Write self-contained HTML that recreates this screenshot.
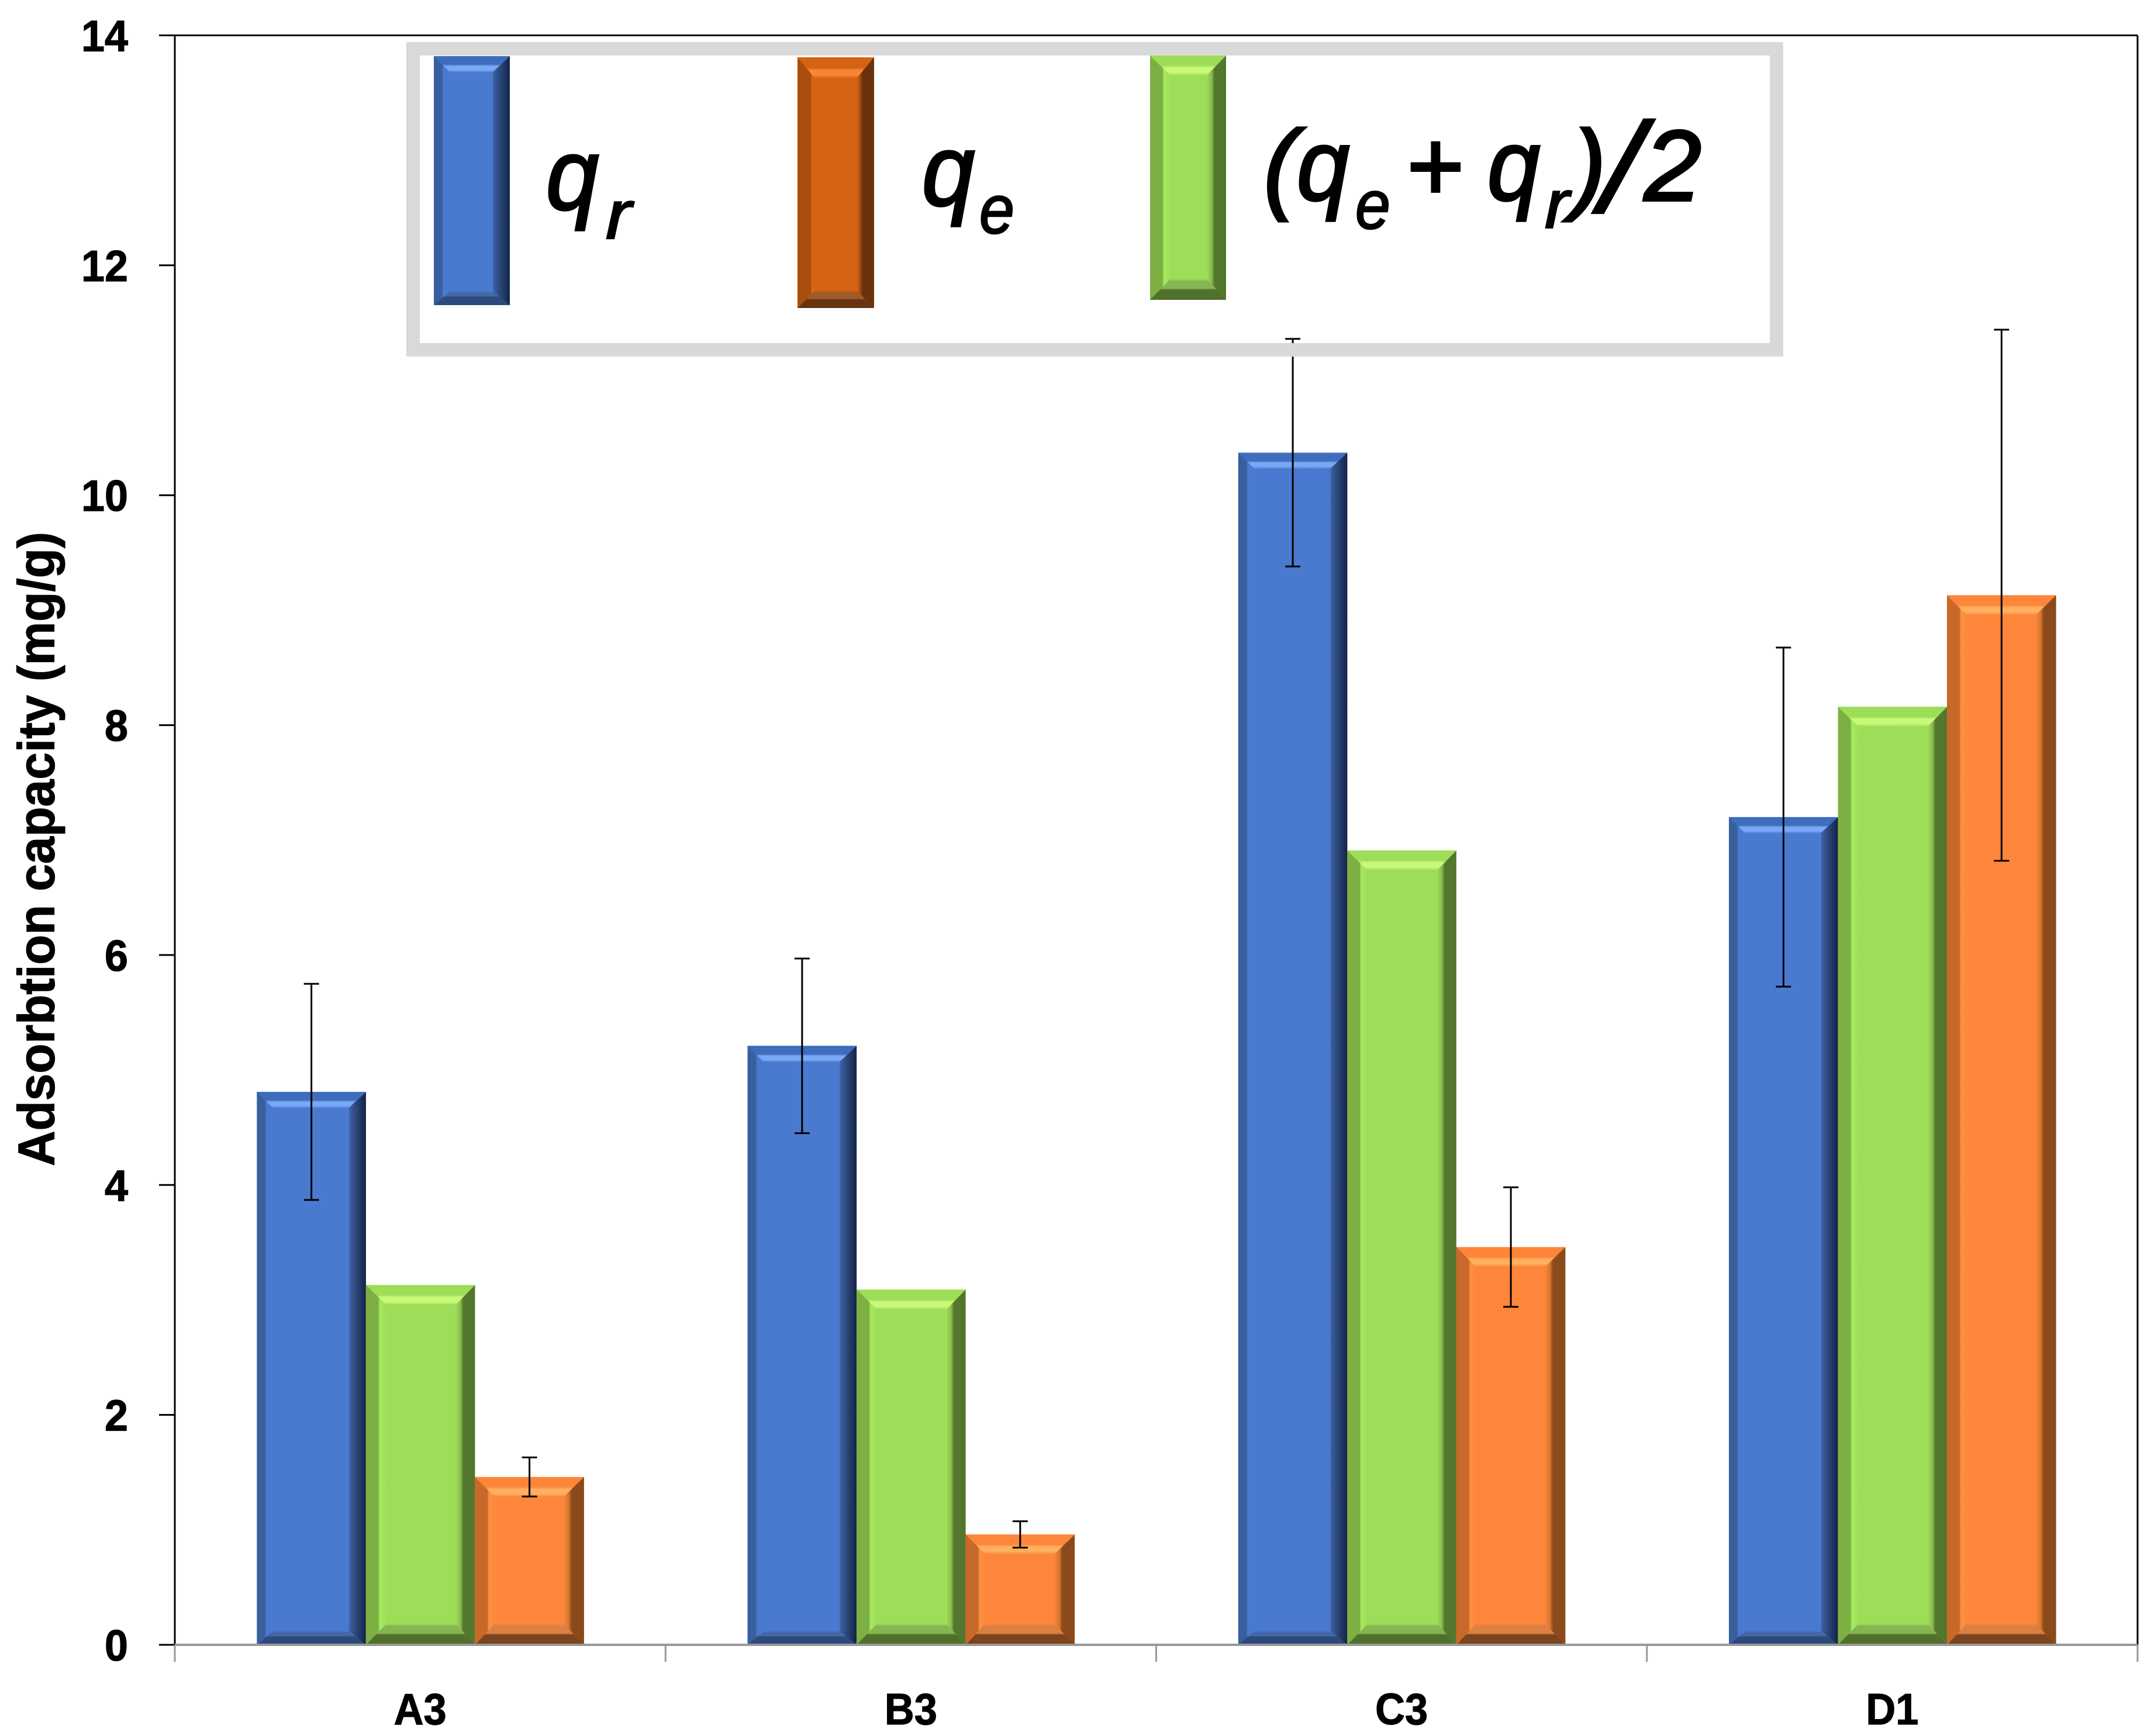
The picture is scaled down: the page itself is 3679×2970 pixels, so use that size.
<!DOCTYPE html>
<html lang="en">
<head>
<meta charset="utf-8">
<title>Adsorption capacity chart</title>
<style>
html,body{margin:0;padding:0;background:#fff;width:3679px;height:2970px;overflow:hidden}
svg{display:block}
text{font-family:"Liberation Sans",sans-serif;fill:#000}
.tick{font-weight:700;font-size:75px;stroke:#000;stroke-width:1.2px}
.math{font-style:italic;font-size:172px;stroke:#000;stroke-width:4px}
.sub{font-style:italic;font-size:118px;stroke:#000;stroke-width:2.5px}
</style>
</head>
<body>
<svg id="chart" xmlns="http://www.w3.org/2000/svg" width="3679" height="2970" viewBox="0 0 3679 2970">
  <rect x="0" y="0" width="3679" height="2970" fill="#ffffff"/>
  <defs id="defs"></defs>
  <g id="bars"></g>
  <g id="axes"></g>
  <g id="errors"></g>
  <text transform="translate(92.5 1995) rotate(-90)" font-weight="700" font-size="88" stroke="#000" stroke-width="1.2" textLength="1085" lengthAdjust="spacingAndGlyphs">Adsorbtion capacity (mg/g)</text>
  <g>
    <rect x="706.5" y="83.5" width="2332" height="515" fill="none" stroke="#d9d9d9" stroke-width="23"/>
    <g id="legend-swatches"></g>
    <g>
      <text class="math" x="934" y="358" textLength="90" lengthAdjust="spacingAndGlyphs">q</text>
      <text class="sub" x="1036" y="408" textLength="44" lengthAdjust="spacingAndGlyphs">r</text>
    </g>
    <g>
      <text class="math" x="1577" y="351" textLength="90" lengthAdjust="spacingAndGlyphs">q</text>
      <text class="sub" x="1675" y="399" textLength="60" lengthAdjust="spacingAndGlyphs">e</text>
    </g>
    <g>
      <text class="math" x="2161" y="343" textLength="57" lengthAdjust="spacingAndGlyphs">(</text>
      <text class="math" x="2218" y="342" textLength="90" lengthAdjust="spacingAndGlyphs">q</text>
      <text class="sub" x="2318" y="391" textLength="60" lengthAdjust="spacingAndGlyphs">e</text>
      <text class="math" x="2404" y="343" textLength="98" lengthAdjust="spacingAndGlyphs">+</text>
      <text class="math" x="2544" y="342" textLength="90" lengthAdjust="spacingAndGlyphs">q</text>
      <text class="sub" x="2642" y="390" textLength="42" lengthAdjust="spacingAndGlyphs">r</text>
      <text class="math" x="2690" y="343" textLength="57" lengthAdjust="spacingAndGlyphs">)</text>
      <text class="math" x="2737" y="363" style="font-size:220px;stroke-width:2px" textLength="72" lengthAdjust="spacingAndGlyphs">/</text>
      <text class="math" x="2812" y="343" textLength="98" lengthAdjust="spacingAndGlyphs">2</text>
    </g>
  </g>
</svg>
<script>
const categories = ["A3", "B3", "C3", "D1"];
const qrValues = [4.81, 5.21, 10.37, 7.20];
const averageValues = [3.13, 3.09, 6.91, 8.16];
const qeValues = [1.46, 0.96, 3.46, 9.13];
const qrErrors = [0.94, 0.76, 0.99, 1.475];
const qeErrors = [0.17, 0.115, 0.52, 2.31];
const yTickLabels = [0, 2, 4, 6, 8, 10, 12, 14];

const SVG_NS = "http://www.w3.org/2000/svg";
const plotLeft = 299, plotRight = 3656, plotBottom = 2814, plotTop = 60.5;
const yMax = 14;
function yScale(v) { return plotBottom - (v / yMax) * (plotBottom - plotTop); }
const catWidth = (plotRight - plotLeft) / categories.length;
const barWidth = catWidth / 4.5;
function barX(catIndex, seriesIndex) { return plotLeft + 0.5 + catIndex * catWidth + barWidth * 0.75 + seriesIndex * barWidth; }

const styles = {
  blue:   {main:"#4a7ad0", leftA:"#38609f", leftB:"#4a7ad0", ls:0.5, rightA:"#3a5d9c", rightB:"#16264a", rs:0.1, re:0.95, topA:"#3f6dbd", hi:"#7aa8f6", botA:"#4468a8", botB:"#2d4a7c", botS:0.4, l:28, r:30, t:28, b:24},
  green:  {main:"#9edd58", leftA:"#7db043", leftB:"#a6ea60", ls:0.6, rightA:"#88bd4c", rightB:"#53772d", rs:0.25, re:0.4, topA:"#9edd58", hi:"#c8fa78", botA:"#86b652", botB:"#50702c", botS:0.5, l:35, r:33, t:34, b:36},
  orange: {main:"#fd863a", leftA:"#c7692a", leftB:"#ff9040", ls:0.62, rightA:"#d8762f", rightB:"#8a4a1c", rs:0.25, re:0.4, topA:"#fd863a", hi:"#ffb060", botA:"#d98043", botB:"#7c431f", botS:0.5, l:34, r:35, t:34, b:36},
  legendOrange: {main:"#d46414", leftA:"#aa4e0e", leftB:"#d9691a", ls:0.75, rightA:"#a84c0e", rightB:"#69320a", rs:0.2, re:0.35, topA:"#d46414", hi:"#fb8436", botA:"#a05a28", botB:"#683410", botS:0.5, l:30, r:30, t:36, b:30}
};

function make(tag, attrs, parent) {
  const e = document.createElementNS(SVG_NS, tag);
  for (const k in attrs) e.setAttribute(k, attrs[k]);
  if (parent) parent.appendChild(e);
  return e;
}
function gradient(id, vertical, stops) {
  const g = make("linearGradient", {id: id, x1: 0, y1: 0, x2: vertical ? 0 : 1, y2: vertical ? 1 : 0}, document.getElementById("defs"));
  stops.forEach(function (s) { make("stop", {offset: s[0], "stop-color": s[1]}, g); });
}
Object.keys(styles).forEach(function (n) {
  const p = styles[n];
  gradient(n + "-left", false, [[0, p.leftA], [p.ls, p.leftA], [Math.min(p.ls + 0.08, 1), p.leftB], [1, p.main]]);
  gradient(n + "-right", false, [[0, p.main], [p.rs, p.rightA], [p.re, p.rightB], [1, p.rightB]]);
  gradient(n + "-top", true, [[0, p.topA], [0.5, p.topA], [0.62, p.hi], [0.85, p.hi], [1, p.main]]);
  gradient(n + "-bottom", true, [[0, p.main], [0.12, p.botA], [p.botS - 0.05, p.botA], [p.botS + 0.03, p.botB], [1, p.botB]]);
});
function pts(list) { return list.map(function (q) { return q[0] + "," + q[1]; }).join(" "); }
function bevelBar(parent, styleName, x, y, w, h) {
  const p = styles[styleName];
  const x2 = x + w, y2 = y + h;
  make("rect", {x: x, y: y, width: w, height: h, fill: p.main}, parent);
  make("polygon", {points: pts([[x, y], [x + p.l, y + p.t], [x + p.l, y2 - p.b], [x, y2]]), fill: "url(#" + styleName + "-left)"}, parent);
  make("polygon", {points: pts([[x2, y], [x2 - p.r, y + p.t], [x2 - p.r, y2 - p.b], [x2, y2]]), fill: "url(#" + styleName + "-right)"}, parent);
  make("polygon", {points: pts([[x, y], [x2, y], [x2 - p.r, y + p.t], [x + p.l, y + p.t]]), fill: "url(#" + styleName + "-top)"}, parent);
  make("polygon", {points: pts([[x + p.l, y2 - p.b], [x2 - p.r, y2 - p.b], [x2, y2], [x, y2]]), fill: "url(#" + styleName + "-bottom)"}, parent);
}

const barsLayer = document.getElementById("bars");
const axesLayer = document.getElementById("axes");
const errorsLayer = document.getElementById("errors");
const seriesList = [
  {name: "qr", values: qrValues, style: "blue", slot: 0},
  {name: "average", values: averageValues, style: "green", slot: 1},
  {name: "qe", values: qeValues, style: "orange", slot: 2}
];
seriesList.forEach(function (s) {
  s.values.forEach(function (v, i) {
    const g = make("g", {}, barsLayer);
    
    
    bevelBar(g, s.style, barX(i, s.slot), yScale(v), barWidth, plotBottom - yScale(v));
  });
});

function errorBar(catIndex, slot, value, err, name) {
  const cx = barX(catIndex, slot) + barWidth / 2;
  const hi = yScale(value + err), lo = yScale(value - err);
  const g = make("g", {stroke: "#000", "stroke-width": 3, fill: "none"}, errorsLayer);
  
  
  make("line", {x1: cx, x2: cx, y1: hi, y2: lo}, g);
  make("line", {x1: cx - 13, x2: cx + 13, y1: hi, y2: hi}, g);
  make("line", {x1: cx - 13, x2: cx + 13, y1: lo, y2: lo}, g);
}
categories.forEach(function (c, i) {
  errorBar(i, 0, qrValues[i], qrErrors[i], 'error-bar-qr-' + c.toLowerCase());
  errorBar(i, 2, qeValues[i], qeErrors[i], 'error-bar-qe-' + c.toLowerCase());
});

const leftAxis = make("line", {x1: plotLeft, x2: plotLeft, y1: plotTop, y2: plotBottom, stroke: "#000", "stroke-width": 3}, axesLayer);


const topLine = make("line", {x1: plotLeft, x2: plotRight, y1: plotTop, y2: plotTop, stroke: "#000", "stroke-width": 3}, axesLayer);


const rightLine = make("line", {x1: plotRight, x2: plotRight, y1: plotTop, y2: plotBottom, stroke: "#000", "stroke-width": 3}, axesLayer);


const xAxis = make("line", {x1: plotLeft, x2: plotRight, y1: plotBottom, y2: plotBottom, stroke: "#989898", "stroke-width": 4}, axesLayer);



yTickLabels.forEach(function (t) {
  const y = yScale(t);
  const tick = make("line", {x1: 272, x2: plotLeft, y1: y, y2: y, stroke: "#000", "stroke-width": 3}, axesLayer);
  
  
  const label = make("text", {"class": "tick", x: 219, y: y + 27, "text-anchor": "end", textLength: String(t).length * 40, lengthAdjust: "spacingAndGlyphs"}, axesLayer);
  label.textContent = String(t);
  
  
});
for (let i = 0; i <= categories.length; i++) {
  const x = plotLeft + i * catWidth;
  const tick = make("line", {x1: x, x2: x, y1: plotBottom, y2: 2843, stroke: "#989898", "stroke-width": 3}, axesLayer);
  
  
}
categories.forEach(function (c, i) {
  const label = make("text", {"class": "tick", x: plotLeft + (i + 0.5) * catWidth, y: 2950, "text-anchor": "middle", textLength: 90, lengthAdjust: "spacingAndGlyphs"}, axesLayer);
  label.textContent = c;
  
  
});

const swatchLayer = document.getElementById("legend-swatches");
const swatchBlue = make("g", {}, swatchLayer);


bevelBar(swatchBlue, "blue", 742, 96, 130, 426);
const swatchOrange = make("g", {}, swatchLayer);


bevelBar(swatchOrange, "legendOrange", 1364, 98, 131, 429);
const swatchGreen = make("g", {}, swatchLayer);


bevelBar(swatchGreen, "green", 1967, 95, 130, 418);
</script>
</body>
</html>
